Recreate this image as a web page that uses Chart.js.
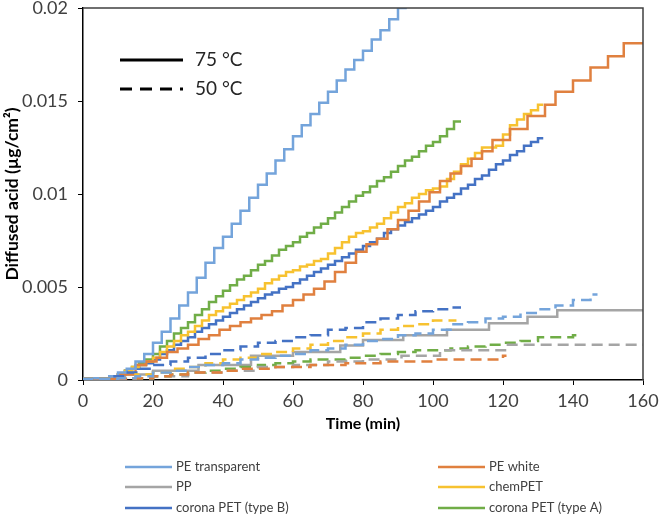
<!DOCTYPE html>
<html><head><meta charset="utf-8">
<script src="https://cdn.jsdelivr.net/npm/chart.js@4.4.1/dist/chart.umd.min.js"></script>
<style>html,body{margin:0;padding:0;background:#fff}#c{display:block}</style>
</head><body>
<canvas id="c" width="660" height="524"></canvas>
<script>
// ---- data ----
const xTickLabels = [0, 20, 40, 60, 80, 100, 120, 140, 160];
const yTickLabels = ['0', '0.005', '0.01', '0.015', '0.02'];
const materials = ['PE transparent', 'PE white', 'PP', 'chemPET', 'corona PET (type B)', 'corona PET (type A)'];
const tempLabels = ['75 °C', '50 °C'];

// 75 °C (solid)
const peTransT75 = [0,7.5,10,12.5,15,17.5,20,22.5,25,27.5,30,32.5,35,37.5,40,42.5,45,47.5,50,52.5,55,57.5,60,62.5,65,67.5,70,72.5,75,77.5,80,82.5,85,87.5,90,92.5];
const peTransV75 = [0.00005,0.0001,0.0002,0.0004,0.0006,0.0010,0.0014,0.0020,0.0026,0.0033,0.0040,0.0047,0.0055,0.0063,0.0071,0.0077,0.0084,0.0091,0.0098,0.0105,0.0111,0.0118,0.0124,0.0131,0.0137,0.0143,0.0149,0.0155,0.0161,0.0167,0.0172,0.0177,0.0183,0.0188,0.0194,0.0200];

const peWhiteT75 = [0,10,15,18,21,24,27,30,33,36,39,42,45,48,51,54,57,60,63,66,69,72,75,78,81,84,87,90,93,96,99,102,105,108,111,114,117,122,127,132,135,140,145,150,154.5,159,160];
const peWhiteV75 = [0,0.00005,0.0003,0.0008,0.0010,0.0012,0.0015,0.0017,0.0019,0.0022,0.0024,0.0027,0.0029,0.0031,0.0033,0.0035,0.0037,0.0040,0.0043,0.0046,0.0049,0.0053,0.0058,0.0063,0.0069,0.0073,0.0076,0.0081,0.0086,0.0091,0.0096,0.0101,0.0107,0.0111,0.0115,0.0119,0.0123,0.0129,0.0135,0.0142,0.0148,0.0155,0.0161,0.0168,0.0174,0.0181,0.0181];

const ppT75 = [0,12,20,33,48,60,73.5,80,91.5,104,116,127,135.5,149.5,160];
const ppV75 = [0,0.0001,0.0003,0.0005,0.0008,0.0013,0.0015,0.00185,0.00215,0.0024,0.0027,0.00305,0.0034,0.00375,0.00375];

const chemT75 = [0,8,10,12,14,16,18,20,22,24,26,28,30,32,34,36,38,40,42,44,46,48,50,52,54,56,58,60,62,64,66,68,70,72,74,76,78,80,82,84,86,88,90,92,94,96,98,100,102,104,106,108,110,112,114,116,118,120,122,124,126,128,130,131.5];
const chemV75 = [0.00005,0.0001,0.0002,0.0003,0.0005,0.0007,0.0008,0.0010,0.0012,0.0015,
  0.0018,0.0021,0.0024,0.0026,0.0029,0.0032,0.0035,0.0037,0.0039,0.0041,
  0.0043,0.0045,0.0047,0.0049,0.0052,0.0054,0.0056,0.0058,0.0059,0.0061,
  0.0062,0.0064,0.0065,0.0068,0.0071,0.0074,0.0077,0.0079,0.0080,0.0082,
  0.0084,0.0087,0.0090,0.0093,0.0095,0.0098,0.0100,0.0102,0.0103,0.0104,
  0.0108,0.0112,0.0116,0.0119,0.0122,0.0125,0.0125,0.0126,0.0132,0.0137,
  0.0140,0.0143,0.0145,0.0148];

const coronaBT75 = [0,8,10,12,14,16,18,20,22,24,26,28,30,32,34,36,38,40,42,44,46,48,50,52,54,56,58,60,62,64,66,68,70,72,74,76,78,80,82,84,86,88,90,92,94,96,98,100,102,104,106,108,110,112,114,116,118,120,122,124,126,128,130,131.5];
const coronaBV75 = [0.00005,0.0001,0.0002,0.0003,0.0005,0.0006,0.0008,0.0009,0.0011,0.0014,
  0.0016,0.0019,0.0021,0.0023,0.0026,0.0028,0.0030,0.0032,0.0034,0.0036,
  0.0038,0.0040,0.0042,0.0044,0.0046,0.0047,0.0049,0.0050,0.0052,0.0054,
  0.0056,0.0058,0.0060,0.0062,0.0064,0.0066,0.0068,0.0070,0.0072,0.0074,
  0.0076,0.0079,0.0081,0.0083,0.0085,0.0087,0.0089,0.0091,0.0093,0.0096,
  0.0098,0.0100,0.0103,0.0105,0.0108,0.0110,0.0113,0.0116,0.0118,0.0121,
  0.0123,0.0126,0.0128,0.0130];

const coronaAT75 = [0,8,10,12,14,16,18,20,22,24,26,28,30,32,34,36,38,40,42,44,46,48,50,52,54,56,58,60,62,64,66,68,70,72,74,76,78,80,82,84,86,88,90,92,94,96,98,100,102,104,106,108];
const coronaAV75 = [0.00005,0.0001,
  0.0002,0.0003,0.0005,0.0007,0.0009,0.0011,0.0014,0.0018,0.0021,
  0.0025,0.0028,0.0031,0.0035,0.0038,0.0042,0.0045,0.0048,0.0051,
  0.0054,0.0056,0.0059,0.0062,0.0064,0.0067,0.0070,0.0072,0.0074,
  0.0077,0.0079,0.0082,0.0084,0.0087,0.0090,0.0093,0.0096,0.0099,
  0.0101,0.0104,0.0107,0.0109,0.0112,0.0115,0.0118,0.0120,0.0123,
  0.0126,0.0128,0.0131,0.0135,0.0139];

// 50 °C (dashed)
const peTransT50 = [0,10,15,20,25,30,35,40,45,50,55,60,65,70,75,80,85,90,95,100,105,110,115,120,125,130,135,140,145,147];
const peTransV50 = [0,0.00005,0.0001,0.0002,0.0004,0.0005,0.0007,0.0008,0.0009,0.0011,0.0012,0.0013,0.0014,0.0016,0.0017,0.0019,0.0021,0.0022,0.0024,0.0025,0.0027,0.0030,0.0031,0.0033,0.0034,0.0036,0.0038,0.0040,0.0043,0.0046];

const peWhiteT50 = [0,15,20,25,30,40,45,55,65,75,85,100,110,120,121];
const peWhiteV50 = [0,0.00005,0.0001,0.0002,0.0003,0.0004,0.0005,0.0006,0.0007,0.0008,0.0009,0.0010,0.0011,0.0011,0.0013];

const ppT50 = [0,15,20,30,40,50,60,70,80,91,102,121,140,160];
const ppV50 = [0,0.00005,0.0001,0.0002,0.0004,0.0005,0.0007,0.0008,0.0010,0.0011,0.0013,0.0016,0.0019,0.0019];

const chemT50 = [0,10,15,20,25,30,35,40,45,50,55,60,65,70,75,80,85,90,95,100,106.7];
const chemV50 = [0,0.00005,0.0001,0.0003,0.0004,0.0006,0.0007,0.0009,0.0011,0.0012,0.0014,0.0015,0.0017,0.0019,0.0021,0.0023,0.0025,0.0027,0.0029,0.0030,0.0032];

const coronaBT50 = [0,8,12,16,20,25,30,35,40,45,50,55,60,65,70,75,80,85,90,95,100,105,108];
const coronaBV50 = [0,0.00005,0.0002,0.0004,0.0006,0.0008,0.0010,0.0012,0.0014,0.0016,0.0018,0.0020,0.0021,0.0023,0.0024,0.0027,0.0028,0.0031,0.0033,0.0035,0.0037,0.0038,0.0039];

const coronaAT50 = [0,15,20,25,30,35,40,45,50,55,60,65,75,80,85,90,95,105,110,115,120,125,130,140,141.5];
const coronaAV50 = [0,0.00005,0.0001,0.0002,0.0003,0.0004,0.0005,0.0006,0.0007,0.0008,0.0009,0.0010,0.0011,0.0012,0.0013,0.0014,0.0015,0.0016,0.0017,0.0018,0.0019,0.0020,0.0021,0.0023,0.0024];

// ---- styling ----
const colors = ['#74A4DB', '#E0803F', '#A5A5A5', '#F7C230', '#4472C4', '#70AD47'];
const series75 = [[peTransT75, peTransV75],[peWhiteT75, peWhiteV75],[ppT75, ppV75],[chemT75, chemV75],[coronaBT75, coronaBV75],[coronaAT75, coronaAV75]];
const series50 = [[peTransT50, peTransV50],[peWhiteT50, peWhiteV50],[ppT50, ppV50],[chemT50, chemV50],[coronaBT50, coronaBV50],[coronaAT50, coronaAV50]];

function pts(t, v) { const n = Math.min(t.length, v.length); const o = []; for (let i = 0; i < n; i++) o.push({x: t[i], y: v[i]}); return o; }

const datasets = [];
series50.forEach((s, i) => datasets.push({
  label: materials[i] + ' 50', data: pts(s[0], s[1]), borderColor: colors[i], borderWidth: 2.5,
  borderDash: [11, 6], stepped: 'after', pointRadius: 0, fill: false
}));
series75.forEach((s, i) => datasets.push({
  label: materials[i], data: pts(s[0], s[1]), borderColor: colors[i], borderWidth: 2.5,
  stepped: 'after', pointRadius: 0, fill: false
}));

Chart.defaults.font.family = 'Lato, "Open Sans", sans-serif';

const decor = {
  id: 'decor',
  afterDraw(chart) {
    const {ctx, chartArea: a} = chart;
    ctx.save();
    // plot frame top + right
    ctx.strokeStyle = '#404040'; ctx.lineWidth = 1.5; ctx.setLineDash([]);
    ctx.beginPath(); ctx.moveTo(a.left, a.top); ctx.lineTo(a.right, a.top); ctx.lineTo(a.right, a.bottom); ctx.stroke();
    // temperature key
    ctx.strokeStyle = '#000'; ctx.lineWidth = 3;
    ctx.beginPath(); ctx.moveTo(120, 60); ctx.lineTo(183, 60); ctx.stroke();
    ctx.setLineDash([12, 8]);
    ctx.beginPath(); ctx.moveTo(120, 89); ctx.lineTo(183, 89); ctx.stroke();
    ctx.setLineDash([]);
    ctx.fillStyle = '#262626'; ctx.font = '19px Lato'; ctx.textBaseline = 'middle'; ctx.textAlign = 'left';
    ctx.fillText(tempLabels[0], 195, 60);
    ctx.fillText(tempLabels[1], 195, 89);
    // material legend (2 columns)
    const colX = [125, 438], rowY = [467, 487, 508];
    ctx.font = '13px Lato'; ctx.fillStyle = '#404040';
    materials.forEach((m, i) => {
      const cx = colX[i % 2], cy = rowY[Math.floor(i / 2)];
      ctx.strokeStyle = colors[i]; ctx.lineWidth = 2.5;
      ctx.beginPath(); ctx.moveTo(cx, cy); ctx.lineTo(cx + 47, cy); ctx.stroke();
      ctx.fillText(m, cx + 51, cy);
    });
    ctx.restore();
  }
};

new Chart(document.getElementById('c'), {
  type: 'line',
  data: { datasets },
  options: {
    responsive: false, animation: false,
    layout: { padding: { left: 0, right: 17, top: 8, bottom: 91 } },
    plugins: { legend: { display: false }, tooltip: { enabled: false } },
    scales: {
      x: {
        type: 'linear', min: 0, max: 160,
        afterBuildTicks: s => { s.ticks = xTickLabels.map(v => ({value: v})); },
        ticks: { autoSkip: false, maxRotation: 0, color: '#404040', font: { size: 18 }, padding: 5 },
        grid: { drawOnChartArea: false, drawTicks: true, tickLength: 5, color: '#000', lineWidth: 1 },
        border: { color: '#000', width: 1.5 },
        title: { display: true, text: 'Time (min)', color: '#000', font: { size: 16, weight: 'bold' }, padding: { top: 0, bottom: 0 } },
        afterFit: s => { s.height = 53; s.paddingLeft = 0; s.paddingRight = 0; }
      },
      y: {
        min: 0, max: 0.02,
        afterBuildTicks: s => { s.ticks = yTickLabels.map(v => ({value: parseFloat(v)})); },
        ticks: { autoSkip: false, color: '#404040', font: { size: 18 }, padding: 10,
          callback: (v, i) => yTickLabels[i] },
        grid: { drawOnChartArea: false, drawTicks: true, tickLength: 5, color: '#000', lineWidth: 1 },
        border: { color: '#000', width: 1.5 },
        title: { display: true, text: 'Diffused acid (µg/cm²)', color: '#000', font: { size: 17.5, weight: 'bold' }, padding: { top: 2, bottom: 0 } },
        afterFit: s => { s.width = 83; s.paddingTop = 0; s.paddingBottom = 0; }
      }
    }
  },
  plugins: [decor]
});
</script>
</body></html>
